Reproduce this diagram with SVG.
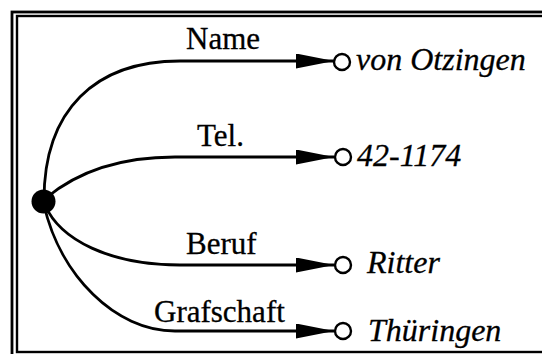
<svg xmlns="http://www.w3.org/2000/svg" width="542" height="354" viewBox="0 0 542 354">
  <style>
    .frame { fill: none; stroke: #000; }
    .edge { fill: none; stroke: #000; stroke-width: 2.8; }
    .label { font-family: "Liberation Serif", "Times New Roman", serif; font-size: 31px; fill: #000; stroke: #000; stroke-width: 0.3; }
    .value { font-family: "Liberation Serif", "Times New Roman", serif; font-size: 32px; font-style: italic; fill: #000; stroke: #000; stroke-width: 0.3; }
    .leaf { fill: #fff; stroke: #000; stroke-width: 2.4; }
  </style>
  <defs>
    <marker id="arrow" markerUnits="userSpaceOnUse" markerWidth="40" markerHeight="16" refX="38" refY="7.5" orient="auto">
      <path d="M0,0 L38,7.5 L0,15 Z" fill="#000"/>
    </marker>
  </defs>

  <rect width="542" height="354" fill="#fff"/>

  <!-- double border frame -->
  <rect class="frame" x="12" y="12" width="545" height="360" stroke-width="2.8"/>
  <rect class="frame" x="17" y="16" width="535" height="336" stroke-width="2.4"/>

  <!-- connectors with their labels -->
  <g id="connectors">
    <g id="edge-name">
      <path class="edge" d="M44,200 C44,110 95,61 180,61 L334,61" marker-end="url(#arrow)"/>
      <text class="label" x="186" y="49">Name</text>
    </g>
    <g id="edge-tel">
      <path class="edge" d="M46,198 C70,178 110,157 175,157 L334,157" marker-end="url(#arrow)"/>
      <text class="label" x="197" y="146">Tel.</text>
    </g>
    <g id="edge-beruf">
      <path class="edge" d="M45,205 C60,240 110,265 180,265 L334,265" marker-end="url(#arrow)"/>
      <text class="label" x="186" y="254">Beruf</text>
    </g>
    <g id="edge-grafschaft">
      <path class="edge" d="M44,205 C60,275 115,331 175,331 L334,331" marker-end="url(#arrow)"/>
      <text class="label" x="154" y="322">Grafschaft</text>
    </g>
  </g>

  <!-- source node -->
  <g id="node-root">
    <circle cx="43.5" cy="201.5" r="12" fill="#000"/>
  </g>

  <!-- target nodes -->
  <g id="node-name">
    <circle class="leaf" cx="342" cy="62" r="8"/>
    <text class="value" x="356" y="70">von Otzingen</text>
  </g>
  <g id="node-tel">
    <circle class="leaf" cx="343" cy="157" r="8"/>
    <text class="value" x="357" y="166">42-1174</text>
  </g>
  <g id="node-beruf">
    <circle class="leaf" cx="343" cy="265" r="8"/>
    <text class="value" x="367" y="273">Ritter</text>
  </g>
  <g id="node-grafschaft">
    <circle class="leaf" cx="343" cy="331" r="8"/>
    <text class="value" x="368" y="341">Thüringen</text>
  </g>
</svg>
